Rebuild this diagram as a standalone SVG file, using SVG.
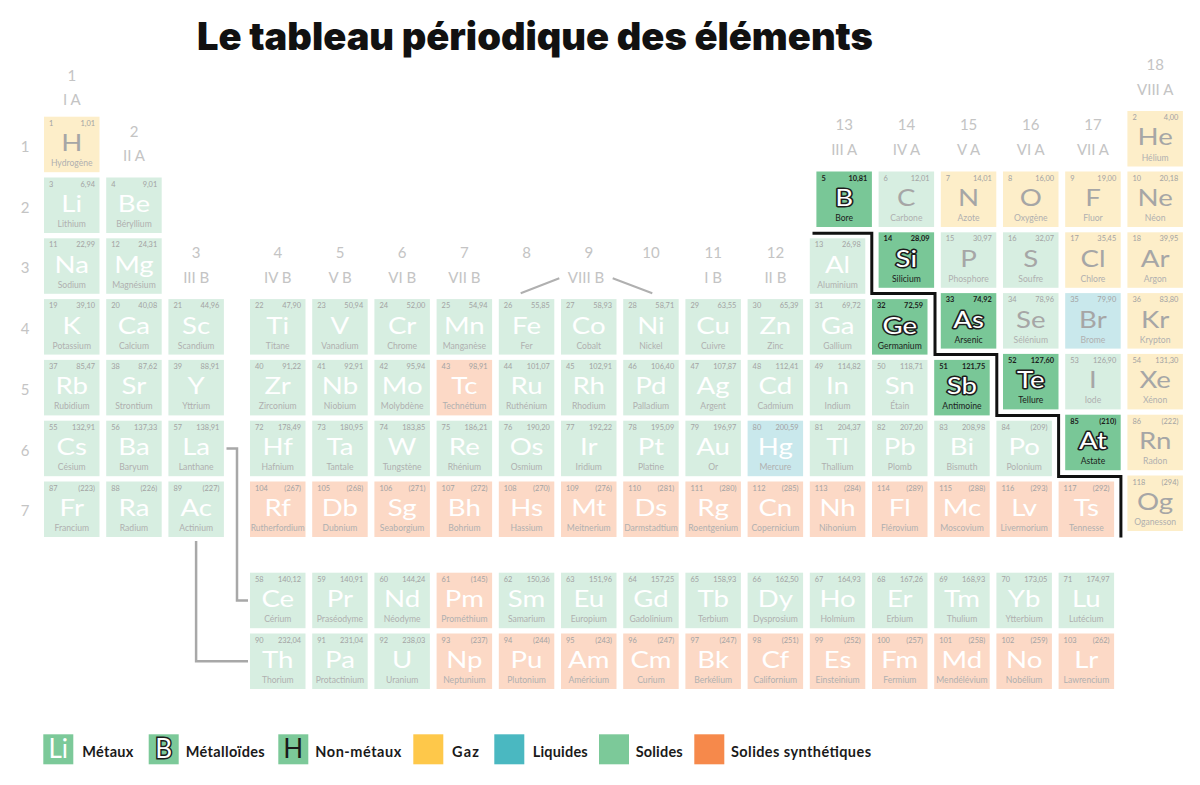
<svg xmlns="http://www.w3.org/2000/svg" width="1200" height="785" viewBox="0 0 1200 785">
<style>
text{font-family:Lato,"Noto Sans","DejaVu Sans",sans-serif}
.title{font-family:Inter,Lato,"DejaVu Sans",sans-serif;font-size:38px;font-weight:900;fill:#111}
.h{font-size:15px;fill:#c4c4c4;text-anchor:middle}
.mt,.nm{fill:#d7eee1}
.ga{fill:#fdeec9}
.lq{fill:#c9e8ec}
.sy{fill:#fcd9c6}
.md{fill:#79c797}
.n{font-size:7.4px;fill:#a3a3a3;transform:translateY(-1px)}
.a{font-size:7.4px;fill:#a3a3a3;text-anchor:end;transform:translateY(-1px)}
.y{font-size:24px;fill:#fff;text-anchor:middle;transform-box:fill-box;transform-origin:center;transform:translateY(1px) scaleX(1.15)}
.nm .y,.ga .y,.lq .y{fill:#a6a6a6}
.hg .y{fill:#fff}
.e{font-size:8.6px;fill:#b0b0b0;text-anchor:middle}
.md .n,.md .a,.md .e{fill:#1c1c1c;font-weight:700}
.md .e{font-weight:400}
.md .y{fill:#fff;stroke:#1c1c1c;stroke-width:3;paint-order:stroke;stroke-linejoin:round}
.lg{font-size:14.5px;font-weight:700;fill:#1a1a1a}
.conn{fill:none;stroke:#a8a8a8;stroke-width:2.5}
.stair{fill:none;stroke:#111;stroke-width:3}
</style>
<defs>
<rect id="sq" width="55.5" height="55.5"/>
</defs>

<text class="title" x="197" y="50" textLength="676" lengthAdjust="spacingAndGlyphs">Le tableau périodique des éléments</text>

<g id="headers">
<text class="h" x="71.75" y="81">1</text><text class="h" x="71.75" y="105">I A</text>
<text class="h" x="134" y="137">2</text><text class="h" x="134" y="161">II A</text>
<text class="h" x="196.2" y="258">3</text><text class="h" x="196.2" y="283">III B</text>
<text class="h" x="277.75" y="258">4</text><text class="h" x="277.75" y="283">IV B</text>
<text class="h" x="340" y="258">5</text><text class="h" x="340" y="283">V B</text>
<text class="h" x="402.2" y="258">6</text><text class="h" x="402.2" y="283">VI B</text>
<text class="h" x="464.4" y="258">7</text><text class="h" x="464.4" y="283">VII B</text>
<text class="h" x="526.6" y="258">8</text>
<text class="h" x="588.8" y="258">9</text><text class="h" x="586" y="283">VIII B</text>
<text class="h" x="651" y="258">10</text>
<text class="h" x="713.2" y="258">11</text><text class="h" x="713.2" y="283">I B</text>
<text class="h" x="775.4" y="258">12</text><text class="h" x="775.4" y="283">II B</text>
<text class="h" x="844.2" y="130">13</text><text class="h" x="844.2" y="155">III A</text>
<text class="h" x="906.4" y="130">14</text><text class="h" x="906.4" y="155">IV A</text>
<text class="h" x="968.6" y="130">15</text><text class="h" x="968.6" y="155">V A</text>
<text class="h" x="1030.8" y="130">16</text><text class="h" x="1030.8" y="155">VI A</text>
<text class="h" x="1093" y="130">17</text><text class="h" x="1093" y="155">VII A</text>
<text class="h" x="1155.2" y="70">18</text><text class="h" x="1155.2" y="95">VIII A</text>
<text class="h" x="25" y="151.5">1</text>
<text class="h" x="25" y="212.5">2</text>
<text class="h" x="25" y="273">3</text>
<text class="h" x="25" y="334">4</text>
<text class="h" x="25" y="394.5">5</text>
<text class="h" x="25" y="455.5">6</text>
<text class="h" x="25" y="516">7</text>
<path d="M520.7,293.3 L559.3,278.3 M612.7,278.3 L652.3,293.3" stroke="#b0b0b0" stroke-width="2" fill="none"/>
</g>

<g id="connectors">
<path class="conn" d="M226.5,448.4 H237 V600.5 H248"/>
<path class="conn" d="M196.1,541 V661.3 H248"/>
<path class="stair" d="M812.5,233.2 H871.8 V293.6 H935 V354.6 H996.8 V415.6 H1058.6 V476.4 H1120.9 V537.5"/>
</g>

<g id="elements">
<g id="el-H" class="c ga" transform="translate(44,116.7)"><use href="#sq"/><text class="n" x="5" y="10">1</text><text class="a" x="51" y="10">1,01</text><text class="y" x="27.75" y="33.5">H</text><text class="e" x="27.75" y="49.5">Hydrogène</text></g>
<g id="el-He" class="c ga" transform="translate(1127.4,111)"><use href="#sq"/><text class="n" x="5" y="10">2</text><text class="a" x="51" y="10">4,00</text><text class="y" x="27.75" y="33.5">He</text><text class="e" x="27.75" y="49.5">Hélium</text></g>

<g id="el-Li" class="c mt" transform="translate(44,177.5)"><use href="#sq"/><text class="n" x="5" y="10">3</text><text class="a" x="51" y="10">6,94</text><text class="y" x="27.75" y="33.5">Li</text><text class="e" x="27.75" y="49.5">Lithium</text></g>
<g id="el-Be" class="c mt" transform="translate(106.2,177.5)"><use href="#sq"/><text class="n" x="5" y="10">4</text><text class="a" x="51" y="10">9,01</text><text class="y" x="27.75" y="33.5">Be</text><text class="e" x="27.75" y="49.5">Béryllium</text></g>
<g id="el-B" class="c md" transform="translate(816.4,171.5)"><use href="#sq"/><text class="n" x="5" y="10">5</text><text class="a" x="51" y="10">10,81</text><text class="y" x="27.75" y="33.5">B</text><text class="e" x="27.75" y="49.5">Bore</text></g>
<g id="el-C" class="c nm" transform="translate(878.6,171.5)"><use href="#sq"/><text class="n" x="5" y="10">6</text><text class="a" x="51" y="10">12,01</text><text class="y" x="27.75" y="33.5">C</text><text class="e" x="27.75" y="49.5">Carbone</text></g>
<g id="el-N" class="c ga" transform="translate(940.8,171.5)"><use href="#sq"/><text class="n" x="5" y="10">7</text><text class="a" x="51" y="10">14,01</text><text class="y" x="27.75" y="33.5">N</text><text class="e" x="27.75" y="49.5">Azote</text></g>
<g id="el-O" class="c ga" transform="translate(1003,171.5)"><use href="#sq"/><text class="n" x="5" y="10">8</text><text class="a" x="51" y="10">16,00</text><text class="y" x="27.75" y="33.5">O</text><text class="e" x="27.75" y="49.5">Oxygène</text></g>
<g id="el-F" class="c ga" transform="translate(1065.2,171.5)"><use href="#sq"/><text class="n" x="5" y="10">9</text><text class="a" x="51" y="10">19,00</text><text class="y" x="27.75" y="33.5">F</text><text class="e" x="27.75" y="49.5">Fluor</text></g>
<g id="el-Ne" class="c ga" transform="translate(1127.4,171.5)"><use href="#sq"/><text class="n" x="5" y="10">10</text><text class="a" x="51" y="10">20,18</text><text class="y" x="27.75" y="33.5">Ne</text><text class="e" x="27.75" y="49.5">Néon</text></g>

<g id="el-Na" class="c mt" transform="translate(44,238.3)"><use href="#sq"/><text class="n" x="5" y="10">11</text><text class="a" x="51" y="10">22,99</text><text class="y" x="27.75" y="33.5">Na</text><text class="e" x="27.75" y="49.5">Sodium</text></g>
<g id="el-Mg" class="c mt" transform="translate(106.2,238.3)"><use href="#sq"/><text class="n" x="5" y="10">12</text><text class="a" x="51" y="10">24,31</text><text class="y" x="27.75" y="33.5">Mg</text><text class="e" x="27.75" y="49.5">Magnésium</text></g>
<g id="el-Al" class="c mt" transform="translate(809.8,238.3)"><use href="#sq"/><text class="n" x="5" y="10">13</text><text class="a" x="51" y="10">26,98</text><text class="y" x="27.75" y="33.5">Al</text><text class="e" x="27.75" y="49.5">Aluminium</text></g>
<g id="el-Si" class="c md" transform="translate(878.6,232.3)"><use href="#sq"/><text class="n" x="5" y="10">14</text><text class="a" x="51" y="10">28,09</text><text class="y" x="27.75" y="33.5">Si</text><text class="e" x="27.75" y="49.5">Silicium</text></g>
<g id="el-P" class="c nm" transform="translate(940.8,232.3)"><use href="#sq"/><text class="n" x="5" y="10">15</text><text class="a" x="51" y="10">30,97</text><text class="y" x="27.75" y="33.5">P</text><text class="e" x="27.75" y="49.5">Phosphore</text></g>
<g id="el-S" class="c nm" transform="translate(1003,232.3)"><use href="#sq"/><text class="n" x="5" y="10">16</text><text class="a" x="51" y="10">32,07</text><text class="y" x="27.75" y="33.5">S</text><text class="e" x="27.75" y="49.5">Soufre</text></g>
<g id="el-Cl" class="c ga" transform="translate(1065.2,232.3)"><use href="#sq"/><text class="n" x="5" y="10">17</text><text class="a" x="51" y="10">35,45</text><text class="y" x="27.75" y="33.5">Cl</text><text class="e" x="27.75" y="49.5">Chlore</text></g>
<g id="el-Ar" class="c ga" transform="translate(1127.4,232.3)"><use href="#sq"/><text class="n" x="5" y="10">18</text><text class="a" x="51" y="10">39,95</text><text class="y" x="27.75" y="33.5">Ar</text><text class="e" x="27.75" y="49.5">Argon</text></g>

<g id="el-K" class="c mt" transform="translate(44,299.1)"><use href="#sq"/><text class="n" x="5" y="10">19</text><text class="a" x="51" y="10">39,10</text><text class="y" x="27.75" y="33.5">K</text><text class="e" x="27.75" y="49.5">Potassium</text></g>
<g id="el-Ca" class="c mt" transform="translate(106.2,299.1)"><use href="#sq"/><text class="n" x="5" y="10">20</text><text class="a" x="51" y="10">40,08</text><text class="y" x="27.75" y="33.5">Ca</text><text class="e" x="27.75" y="49.5">Calcium</text></g>
<g id="el-Sc" class="c mt" transform="translate(168.4,299.1)"><use href="#sq"/><text class="n" x="5" y="10">21</text><text class="a" x="51" y="10">44,96</text><text class="y" x="27.75" y="33.5">Sc</text><text class="e" x="27.75" y="49.5">Scandium</text></g>
<g id="el-Ti" class="c mt" transform="translate(250,299.1)"><use href="#sq"/><text class="n" x="5" y="10">22</text><text class="a" x="51" y="10">47,90</text><text class="y" x="27.75" y="33.5">Ti</text><text class="e" x="27.75" y="49.5">Titane</text></g>
<g id="el-V" class="c mt" transform="translate(312.2,299.1)"><use href="#sq"/><text class="n" x="5" y="10">23</text><text class="a" x="51" y="10">50,94</text><text class="y" x="27.75" y="33.5">V</text><text class="e" x="27.75" y="49.5">Vanadium</text></g>
<g id="el-Cr" class="c mt" transform="translate(374.4,299.1)"><use href="#sq"/><text class="n" x="5" y="10">24</text><text class="a" x="51" y="10">52,00</text><text class="y" x="27.75" y="33.5">Cr</text><text class="e" x="27.75" y="49.5">Chrome</text></g>
<g id="el-Mn" class="c mt" transform="translate(436.6,299.1)"><use href="#sq"/><text class="n" x="5" y="10">25</text><text class="a" x="51" y="10">54,94</text><text class="y" x="27.75" y="33.5">Mn</text><text class="e" x="27.75" y="49.5">Manganèse</text></g>
<g id="el-Fe" class="c mt" transform="translate(498.8,299.1)"><use href="#sq"/><text class="n" x="5" y="10">26</text><text class="a" x="51" y="10">55,85</text><text class="y" x="27.75" y="33.5">Fe</text><text class="e" x="27.75" y="49.5">Fer</text></g>
<g id="el-Co" class="c mt" transform="translate(561,299.1)"><use href="#sq"/><text class="n" x="5" y="10">27</text><text class="a" x="51" y="10">58,93</text><text class="y" x="27.75" y="33.5">Co</text><text class="e" x="27.75" y="49.5">Cobalt</text></g>
<g id="el-Ni" class="c mt" transform="translate(623.2,299.1)"><use href="#sq"/><text class="n" x="5" y="10">28</text><text class="a" x="51" y="10">58,71</text><text class="y" x="27.75" y="33.5">Ni</text><text class="e" x="27.75" y="49.5">Nickel</text></g>
<g id="el-Cu" class="c mt" transform="translate(685.4,299.1)"><use href="#sq"/><text class="n" x="5" y="10">29</text><text class="a" x="51" y="10">63,55</text><text class="y" x="27.75" y="33.5">Cu</text><text class="e" x="27.75" y="49.5">Cuivre</text></g>
<g id="el-Zn" class="c mt" transform="translate(747.6,299.1)"><use href="#sq"/><text class="n" x="5" y="10">30</text><text class="a" x="51" y="10">65,39</text><text class="y" x="27.75" y="33.5">Zn</text><text class="e" x="27.75" y="49.5">Zinc</text></g>
<g id="el-Ga" class="c mt" transform="translate(809.8,299.1)"><use href="#sq"/><text class="n" x="5" y="10">31</text><text class="a" x="51" y="10">69,72</text><text class="y" x="27.75" y="33.5">Ga</text><text class="e" x="27.75" y="49.5">Gallium</text></g>
<g id="el-Ge" class="c md" transform="translate(872,299.1)"><use href="#sq"/><text class="n" x="5" y="10">32</text><text class="a" x="51" y="10">72,59</text><text class="y" x="27.75" y="33.5">Ge</text><text class="e" x="27.75" y="49.5">Germanium</text></g>
<g id="el-As" class="c md" transform="translate(940.8,293.1)"><use href="#sq"/><text class="n" x="5" y="10">33</text><text class="a" x="51" y="10">74,92</text><text class="y" x="27.75" y="33.5">As</text><text class="e" x="27.75" y="49.5">Arsenic</text></g>
<g id="el-Se" class="c nm" transform="translate(1003,293.1)"><use href="#sq"/><text class="n" x="5" y="10">34</text><text class="a" x="51" y="10">78,96</text><text class="y" x="27.75" y="33.5">Se</text><text class="e" x="27.75" y="49.5">Sélénium</text></g>
<g id="el-Br" class="c lq" transform="translate(1065.2,293.1)"><use href="#sq"/><text class="n" x="5" y="10">35</text><text class="a" x="51" y="10">79,90</text><text class="y" x="27.75" y="33.5">Br</text><text class="e" x="27.75" y="49.5">Brome</text></g>
<g id="el-Kr" class="c ga" transform="translate(1127.4,293.1)"><use href="#sq"/><text class="n" x="5" y="10">36</text><text class="a" x="51" y="10">83,80</text><text class="y" x="27.75" y="33.5">Kr</text><text class="e" x="27.75" y="49.5">Krypton</text></g>

<g id="el-Rb" class="c mt" transform="translate(44,359.9)"><use href="#sq"/><text class="n" x="5" y="10">37</text><text class="a" x="51" y="10">85,47</text><text class="y" x="27.75" y="33.5">Rb</text><text class="e" x="27.75" y="49.5">Rubidium</text></g>
<g id="el-Sr" class="c mt" transform="translate(106.2,359.9)"><use href="#sq"/><text class="n" x="5" y="10">38</text><text class="a" x="51" y="10">87,62</text><text class="y" x="27.75" y="33.5">Sr</text><text class="e" x="27.75" y="49.5">Strontium</text></g>
<g id="el-Y" class="c mt" transform="translate(168.4,359.9)"><use href="#sq"/><text class="n" x="5" y="10">39</text><text class="a" x="51" y="10">88,91</text><text class="y" x="27.75" y="33.5">Y</text><text class="e" x="27.75" y="49.5">Yttrium</text></g>
<g id="el-Zr" class="c mt" transform="translate(250,359.9)"><use href="#sq"/><text class="n" x="5" y="10">40</text><text class="a" x="51" y="10">91,22</text><text class="y" x="27.75" y="33.5">Zr</text><text class="e" x="27.75" y="49.5">Zirconium</text></g>
<g id="el-Nb" class="c mt" transform="translate(312.2,359.9)"><use href="#sq"/><text class="n" x="5" y="10">41</text><text class="a" x="51" y="10">92,91</text><text class="y" x="27.75" y="33.5">Nb</text><text class="e" x="27.75" y="49.5">Niobium</text></g>
<g id="el-Mo" class="c mt" transform="translate(374.4,359.9)"><use href="#sq"/><text class="n" x="5" y="10">42</text><text class="a" x="51" y="10">95,94</text><text class="y" x="27.75" y="33.5">Mo</text><text class="e" x="27.75" y="49.5">Molybdène</text></g>
<g id="el-Tc" class="c sy" transform="translate(436.6,359.9)"><use href="#sq"/><text class="n" x="5" y="10">43</text><text class="a" x="51" y="10">98,91</text><text class="y" x="27.75" y="33.5">Tc</text><text class="e" x="27.75" y="49.5">Technétium</text></g>
<g id="el-Ru" class="c mt" transform="translate(498.8,359.9)"><use href="#sq"/><text class="n" x="5" y="10">44</text><text class="a" x="51" y="10">101,07</text><text class="y" x="27.75" y="33.5">Ru</text><text class="e" x="27.75" y="49.5">Ruthénium</text></g>
<g id="el-Rh" class="c mt" transform="translate(561,359.9)"><use href="#sq"/><text class="n" x="5" y="10">45</text><text class="a" x="51" y="10">102,91</text><text class="y" x="27.75" y="33.5">Rh</text><text class="e" x="27.75" y="49.5">Rhodium</text></g>
<g id="el-Pd" class="c mt" transform="translate(623.2,359.9)"><use href="#sq"/><text class="n" x="5" y="10">46</text><text class="a" x="51" y="10">106,40</text><text class="y" x="27.75" y="33.5">Pd</text><text class="e" x="27.75" y="49.5">Palladium</text></g>
<g id="el-Ag" class="c mt" transform="translate(685.4,359.9)"><use href="#sq"/><text class="n" x="5" y="10">47</text><text class="a" x="51" y="10">107,87</text><text class="y" x="27.75" y="33.5">Ag</text><text class="e" x="27.75" y="49.5">Argent</text></g>
<g id="el-Cd" class="c mt" transform="translate(747.6,359.9)"><use href="#sq"/><text class="n" x="5" y="10">48</text><text class="a" x="51" y="10">112,41</text><text class="y" x="27.75" y="33.5">Cd</text><text class="e" x="27.75" y="49.5">Cadmium</text></g>
<g id="el-In" class="c mt" transform="translate(809.8,359.9)"><use href="#sq"/><text class="n" x="5" y="10">49</text><text class="a" x="51" y="10">114,82</text><text class="y" x="27.75" y="33.5">In</text><text class="e" x="27.75" y="49.5">Indium</text></g>
<g id="el-Sn" class="c mt" transform="translate(872,359.9)"><use href="#sq"/><text class="n" x="5" y="10">50</text><text class="a" x="51" y="10">118,71</text><text class="y" x="27.75" y="33.5">Sn</text><text class="e" x="27.75" y="49.5">Étain</text></g>
<g id="el-Sb" class="c md" transform="translate(934.2,359.9)"><use href="#sq"/><text class="n" x="5" y="10">51</text><text class="a" x="51" y="10">121,75</text><text class="y" x="27.75" y="33.5">Sb</text><text class="e" x="27.75" y="49.5">Antimoine</text></g>
<g id="el-Te" class="c md" transform="translate(1003,353.9)"><use href="#sq"/><text class="n" x="5" y="10">52</text><text class="a" x="51" y="10">127,60</text><text class="y" x="27.75" y="33.5">Te</text><text class="e" x="27.75" y="49.5">Tellure</text></g>
<g id="el-I" class="c nm" transform="translate(1065.2,353.9)"><use href="#sq"/><text class="n" x="5" y="10">53</text><text class="a" x="51" y="10">126,90</text><text class="y" x="27.75" y="33.5">I</text><text class="e" x="27.75" y="49.5">Iode</text></g>
<g id="el-Xe" class="c ga" transform="translate(1127.4,353.9)"><use href="#sq"/><text class="n" x="5" y="10">54</text><text class="a" x="51" y="10">131,30</text><text class="y" x="27.75" y="33.5">Xe</text><text class="e" x="27.75" y="49.5">Xénon</text></g>

<g id="el-Cs" class="c mt" transform="translate(44,420.7)"><use href="#sq"/><text class="n" x="5" y="10">55</text><text class="a" x="51" y="10">132,91</text><text class="y" x="27.75" y="33.5">Cs</text><text class="e" x="27.75" y="49.5">Césium</text></g>
<g id="el-Ba" class="c mt" transform="translate(106.2,420.7)"><use href="#sq"/><text class="n" x="5" y="10">56</text><text class="a" x="51" y="10">137,33</text><text class="y" x="27.75" y="33.5">Ba</text><text class="e" x="27.75" y="49.5">Baryum</text></g>
<g id="el-La" class="c mt" transform="translate(168.4,420.7)"><use href="#sq"/><text class="n" x="5" y="10">57</text><text class="a" x="51" y="10">138,91</text><text class="y" x="27.75" y="33.5">La</text><text class="e" x="27.75" y="49.5">Lanthane</text></g>
<g id="el-Hf" class="c mt" transform="translate(250,420.7)"><use href="#sq"/><text class="n" x="5" y="10">72</text><text class="a" x="51" y="10">178,49</text><text class="y" x="27.75" y="33.5">Hf</text><text class="e" x="27.75" y="49.5">Hafnium</text></g>
<g id="el-Ta" class="c mt" transform="translate(312.2,420.7)"><use href="#sq"/><text class="n" x="5" y="10">73</text><text class="a" x="51" y="10">180,95</text><text class="y" x="27.75" y="33.5">Ta</text><text class="e" x="27.75" y="49.5">Tantale</text></g>
<g id="el-W" class="c mt" transform="translate(374.4,420.7)"><use href="#sq"/><text class="n" x="5" y="10">74</text><text class="a" x="51" y="10">183,85</text><text class="y" x="27.75" y="33.5">W</text><text class="e" x="27.75" y="49.5">Tungstène</text></g>
<g id="el-Re" class="c mt" transform="translate(436.6,420.7)"><use href="#sq"/><text class="n" x="5" y="10">75</text><text class="a" x="51" y="10">186,21</text><text class="y" x="27.75" y="33.5">Re</text><text class="e" x="27.75" y="49.5">Rhénium</text></g>
<g id="el-Os" class="c mt" transform="translate(498.8,420.7)"><use href="#sq"/><text class="n" x="5" y="10">76</text><text class="a" x="51" y="10">190,20</text><text class="y" x="27.75" y="33.5">Os</text><text class="e" x="27.75" y="49.5">Osmium</text></g>
<g id="el-Ir" class="c mt" transform="translate(561,420.7)"><use href="#sq"/><text class="n" x="5" y="10">77</text><text class="a" x="51" y="10">192,22</text><text class="y" x="27.75" y="33.5">Ir</text><text class="e" x="27.75" y="49.5">Iridium</text></g>
<g id="el-Pt" class="c mt" transform="translate(623.2,420.7)"><use href="#sq"/><text class="n" x="5" y="10">78</text><text class="a" x="51" y="10">195,09</text><text class="y" x="27.75" y="33.5">Pt</text><text class="e" x="27.75" y="49.5">Platine</text></g>
<g id="el-Au" class="c mt" transform="translate(685.4,420.7)"><use href="#sq"/><text class="n" x="5" y="10">79</text><text class="a" x="51" y="10">196,97</text><text class="y" x="27.75" y="33.5">Au</text><text class="e" x="27.75" y="49.5">Or</text></g>
<g id="el-Hg" class="c lq hg" transform="translate(747.6,420.7)"><use href="#sq"/><text class="n" x="5" y="10">80</text><text class="a" x="51" y="10">200,59</text><text class="y" x="27.75" y="33.5">Hg</text><text class="e" x="27.75" y="49.5">Mercure</text></g>
<g id="el-Tl" class="c mt" transform="translate(809.8,420.7)"><use href="#sq"/><text class="n" x="5" y="10">81</text><text class="a" x="51" y="10">204,37</text><text class="y" x="27.75" y="33.5">Tl</text><text class="e" x="27.75" y="49.5">Thallium</text></g>
<g id="el-Pb" class="c mt" transform="translate(872,420.7)"><use href="#sq"/><text class="n" x="5" y="10">82</text><text class="a" x="51" y="10">207,20</text><text class="y" x="27.75" y="33.5">Pb</text><text class="e" x="27.75" y="49.5">Plomb</text></g>
<g id="el-Bi" class="c mt" transform="translate(934.2,420.7)"><use href="#sq"/><text class="n" x="5" y="10">83</text><text class="a" x="51" y="10">208,98</text><text class="y" x="27.75" y="33.5">Bi</text><text class="e" x="27.75" y="49.5">Bismuth</text></g>
<g id="el-Po" class="c mt" transform="translate(996.4,420.7)"><use href="#sq"/><text class="n" x="5" y="10">84</text><text class="a" x="51" y="10">(209)</text><text class="y" x="27.75" y="33.5">Po</text><text class="e" x="27.75" y="49.5">Polonium</text></g>
<g id="el-At" class="c md" transform="translate(1065.2,414.7)"><use href="#sq"/><text class="n" x="5" y="10">85</text><text class="a" x="51" y="10">(210)</text><text class="y" x="27.75" y="33.5">At</text><text class="e" x="27.75" y="49.5">Astate</text></g>
<g id="el-Rn" class="c ga" transform="translate(1127.4,414.7)"><use href="#sq"/><text class="n" x="5" y="10">86</text><text class="a" x="51" y="10">(222)</text><text class="y" x="27.75" y="33.5">Rn</text><text class="e" x="27.75" y="49.5">Radon</text></g>

<g id="el-Fr" class="c mt" transform="translate(44,481.5)"><use href="#sq"/><text class="n" x="5" y="10">87</text><text class="a" x="51" y="10">(223)</text><text class="y" x="27.75" y="33.5">Fr</text><text class="e" x="27.75" y="49.5">Francium</text></g>
<g id="el-Ra" class="c mt" transform="translate(106.2,481.5)"><use href="#sq"/><text class="n" x="5" y="10">88</text><text class="a" x="51" y="10">(226)</text><text class="y" x="27.75" y="33.5">Ra</text><text class="e" x="27.75" y="49.5">Radium</text></g>
<g id="el-Ac" class="c mt" transform="translate(168.4,481.5)"><use href="#sq"/><text class="n" x="5" y="10">89</text><text class="a" x="51" y="10">(227)</text><text class="y" x="27.75" y="33.5">Ac</text><text class="e" x="27.75" y="49.5">Actinium</text></g>
<g id="el-Rf" class="c sy" transform="translate(250,481.5)"><use href="#sq"/><text class="n" x="5" y="10">104</text><text class="a" x="51" y="10">(267)</text><text class="y" x="27.75" y="33.5">Rf</text><text class="e" x="27.75" y="49.5" textLength="54" lengthAdjust="spacingAndGlyphs">Rutherfordium</text></g>
<g id="el-Db" class="c sy" transform="translate(312.2,481.5)"><use href="#sq"/><text class="n" x="5" y="10">105</text><text class="a" x="51" y="10">(268)</text><text class="y" x="27.75" y="33.5">Db</text><text class="e" x="27.75" y="49.5">Dubnium</text></g>
<g id="el-Sg" class="c sy" transform="translate(374.4,481.5)"><use href="#sq"/><text class="n" x="5" y="10">106</text><text class="a" x="51" y="10">(271)</text><text class="y" x="27.75" y="33.5">Sg</text><text class="e" x="27.75" y="49.5">Seaborgium</text></g>
<g id="el-Bh" class="c sy" transform="translate(436.6,481.5)"><use href="#sq"/><text class="n" x="5" y="10">107</text><text class="a" x="51" y="10">(272)</text><text class="y" x="27.75" y="33.5">Bh</text><text class="e" x="27.75" y="49.5">Bohrium</text></g>
<g id="el-Hs" class="c sy" transform="translate(498.8,481.5)"><use href="#sq"/><text class="n" x="5" y="10">108</text><text class="a" x="51" y="10">(270)</text><text class="y" x="27.75" y="33.5">Hs</text><text class="e" x="27.75" y="49.5">Hassium</text></g>
<g id="el-Mt" class="c sy" transform="translate(561,481.5)"><use href="#sq"/><text class="n" x="5" y="10">109</text><text class="a" x="51" y="10">(276)</text><text class="y" x="27.75" y="33.5">Mt</text><text class="e" x="27.75" y="49.5">Meitnerium</text></g>
<g id="el-Ds" class="c sy" transform="translate(623.2,481.5)"><use href="#sq"/><text class="n" x="5" y="10">110</text><text class="a" x="51" y="10">(281)</text><text class="y" x="27.75" y="33.5">Ds</text><text class="e" x="27.75" y="49.5" textLength="53.5" lengthAdjust="spacingAndGlyphs">Darmstadtium</text></g>
<g id="el-Rg" class="c sy" transform="translate(685.4,481.5)"><use href="#sq"/><text class="n" x="5" y="10">111</text><text class="a" x="51" y="10">(280)</text><text class="y" x="27.75" y="33.5">Rg</text><text class="e" x="27.75" y="49.5">Roentgenium</text></g>
<g id="el-Cn" class="c sy" transform="translate(747.6,481.5)"><use href="#sq"/><text class="n" x="5" y="10">112</text><text class="a" x="51" y="10">(285)</text><text class="y" x="27.75" y="33.5">Cn</text><text class="e" x="27.75" y="49.5">Copernicium</text></g>
<g id="el-Nh" class="c sy" transform="translate(809.8,481.5)"><use href="#sq"/><text class="n" x="5" y="10">113</text><text class="a" x="51" y="10">(284)</text><text class="y" x="27.75" y="33.5">Nh</text><text class="e" x="27.75" y="49.5">Nihonium</text></g>
<g id="el-Fl" class="c sy" transform="translate(872,481.5)"><use href="#sq"/><text class="n" x="5" y="10">114</text><text class="a" x="51" y="10">(289)</text><text class="y" x="27.75" y="33.5">Fl</text><text class="e" x="27.75" y="49.5">Flérovium</text></g>
<g id="el-Mc" class="c sy" transform="translate(934.2,481.5)"><use href="#sq"/><text class="n" x="5" y="10">115</text><text class="a" x="51" y="10">(288)</text><text class="y" x="27.75" y="33.5">Mc</text><text class="e" x="27.75" y="49.5">Moscovium</text></g>
<g id="el-Lv" class="c sy" transform="translate(996.4,481.5)"><use href="#sq"/><text class="n" x="5" y="10">116</text><text class="a" x="51" y="10">(293)</text><text class="y" x="27.75" y="33.5">Lv</text><text class="e" x="27.75" y="49.5">Livermorium</text></g>
<g id="el-Ts" class="c sy" transform="translate(1058.6,481.5)"><use href="#sq"/><text class="n" x="5" y="10">117</text><text class="a" x="51" y="10">(292)</text><text class="y" x="27.75" y="33.5">Ts</text><text class="e" x="27.75" y="49.5">Tennesse</text></g>
<g id="el-Og" class="c ga" transform="translate(1127.4,475.5)"><use href="#sq"/><text class="n" x="5" y="10">118</text><text class="a" x="51" y="10">(294)</text><text class="y" x="27.75" y="33.5">Og</text><text class="e" x="27.75" y="49.5">Oganesson</text></g>

<g id="el-Ce" class="c mt" transform="translate(250,572.7)"><use href="#sq"/><text class="n" x="5" y="10">58</text><text class="a" x="51" y="10">140,12</text><text class="y" x="27.75" y="33.5">Ce</text><text class="e" x="27.75" y="49.5">Cérium</text></g>
<g id="el-Pr" class="c mt" transform="translate(312.2,572.7)"><use href="#sq"/><text class="n" x="5" y="10">59</text><text class="a" x="51" y="10">140,91</text><text class="y" x="27.75" y="33.5">Pr</text><text class="e" x="27.75" y="49.5">Praséodyme</text></g>
<g id="el-Nd" class="c mt" transform="translate(374.4,572.7)"><use href="#sq"/><text class="n" x="5" y="10">60</text><text class="a" x="51" y="10">144,24</text><text class="y" x="27.75" y="33.5">Nd</text><text class="e" x="27.75" y="49.5">Néodyme</text></g>
<g id="el-Pm" class="c sy" transform="translate(436.6,572.7)"><use href="#sq"/><text class="n" x="5" y="10">61</text><text class="a" x="51" y="10">(145)</text><text class="y" x="27.75" y="33.5">Pm</text><text class="e" x="27.75" y="49.5">Prométhium</text></g>
<g id="el-Sm" class="c mt" transform="translate(498.8,572.7)"><use href="#sq"/><text class="n" x="5" y="10">62</text><text class="a" x="51" y="10">150,36</text><text class="y" x="27.75" y="33.5">Sm</text><text class="e" x="27.75" y="49.5">Samarium</text></g>
<g id="el-Eu" class="c mt" transform="translate(561,572.7)"><use href="#sq"/><text class="n" x="5" y="10">63</text><text class="a" x="51" y="10">151,96</text><text class="y" x="27.75" y="33.5">Eu</text><text class="e" x="27.75" y="49.5">Europium</text></g>
<g id="el-Gd" class="c mt" transform="translate(623.2,572.7)"><use href="#sq"/><text class="n" x="5" y="10">64</text><text class="a" x="51" y="10">157,25</text><text class="y" x="27.75" y="33.5">Gd</text><text class="e" x="27.75" y="49.5">Gadolinium</text></g>
<g id="el-Tb" class="c mt" transform="translate(685.4,572.7)"><use href="#sq"/><text class="n" x="5" y="10">65</text><text class="a" x="51" y="10">158,93</text><text class="y" x="27.75" y="33.5">Tb</text><text class="e" x="27.75" y="49.5">Terbium</text></g>
<g id="el-Dy" class="c mt" transform="translate(747.6,572.7)"><use href="#sq"/><text class="n" x="5" y="10">66</text><text class="a" x="51" y="10">162,50</text><text class="y" x="27.75" y="33.5">Dy</text><text class="e" x="27.75" y="49.5">Dysprosium</text></g>
<g id="el-Ho" class="c mt" transform="translate(809.8,572.7)"><use href="#sq"/><text class="n" x="5" y="10">67</text><text class="a" x="51" y="10">164,93</text><text class="y" x="27.75" y="33.5">Ho</text><text class="e" x="27.75" y="49.5">Holmium</text></g>
<g id="el-Er" class="c mt" transform="translate(872,572.7)"><use href="#sq"/><text class="n" x="5" y="10">68</text><text class="a" x="51" y="10">167,26</text><text class="y" x="27.75" y="33.5">Er</text><text class="e" x="27.75" y="49.5">Erbium</text></g>
<g id="el-Tm" class="c mt" transform="translate(934.2,572.7)"><use href="#sq"/><text class="n" x="5" y="10">69</text><text class="a" x="51" y="10">168,93</text><text class="y" x="27.75" y="33.5">Tm</text><text class="e" x="27.75" y="49.5">Thulium</text></g>
<g id="el-Yb" class="c mt" transform="translate(996.4,572.7)"><use href="#sq"/><text class="n" x="5" y="10">70</text><text class="a" x="51" y="10">173,05</text><text class="y" x="27.75" y="33.5">Yb</text><text class="e" x="27.75" y="49.5">Ytterbium</text></g>
<g id="el-Lu" class="c mt" transform="translate(1058.6,572.7)"><use href="#sq"/><text class="n" x="5" y="10">71</text><text class="a" x="51" y="10">174,97</text><text class="y" x="27.75" y="33.5">Lu</text><text class="e" x="27.75" y="49.5">Lutécium</text></g>

<g id="el-Th" class="c mt" transform="translate(250,633.5)"><use href="#sq"/><text class="n" x="5" y="10">90</text><text class="a" x="51" y="10">232,04</text><text class="y" x="27.75" y="33.5">Th</text><text class="e" x="27.75" y="49.5">Thorium</text></g>
<g id="el-Pa" class="c mt" transform="translate(312.2,633.5)"><use href="#sq"/><text class="n" x="5" y="10">91</text><text class="a" x="51" y="10">231,04</text><text class="y" x="27.75" y="33.5">Pa</text><text class="e" x="27.75" y="49.5">Protactinium</text></g>
<g id="el-U" class="c mt" transform="translate(374.4,633.5)"><use href="#sq"/><text class="n" x="5" y="10">92</text><text class="a" x="51" y="10">238,03</text><text class="y" x="27.75" y="33.5">U</text><text class="e" x="27.75" y="49.5">Uranium</text></g>
<g id="el-Np" class="c sy" transform="translate(436.6,633.5)"><use href="#sq"/><text class="n" x="5" y="10">93</text><text class="a" x="51" y="10">(237)</text><text class="y" x="27.75" y="33.5">Np</text><text class="e" x="27.75" y="49.5">Neptunium</text></g>
<g id="el-Pu" class="c sy" transform="translate(498.8,633.5)"><use href="#sq"/><text class="n" x="5" y="10">94</text><text class="a" x="51" y="10">(244)</text><text class="y" x="27.75" y="33.5">Pu</text><text class="e" x="27.75" y="49.5">Plutonium</text></g>
<g id="el-Am" class="c sy" transform="translate(561,633.5)"><use href="#sq"/><text class="n" x="5" y="10">95</text><text class="a" x="51" y="10">(243)</text><text class="y" x="27.75" y="33.5">Am</text><text class="e" x="27.75" y="49.5">Américium</text></g>
<g id="el-Cm" class="c sy" transform="translate(623.2,633.5)"><use href="#sq"/><text class="n" x="5" y="10">96</text><text class="a" x="51" y="10">(247)</text><text class="y" x="27.75" y="33.5">Cm</text><text class="e" x="27.75" y="49.5">Curium</text></g>
<g id="el-Bk" class="c sy" transform="translate(685.4,633.5)"><use href="#sq"/><text class="n" x="5" y="10">97</text><text class="a" x="51" y="10">(247)</text><text class="y" x="27.75" y="33.5">Bk</text><text class="e" x="27.75" y="49.5">Berkélium</text></g>
<g id="el-Cf" class="c sy" transform="translate(747.6,633.5)"><use href="#sq"/><text class="n" x="5" y="10">98</text><text class="a" x="51" y="10">(251)</text><text class="y" x="27.75" y="33.5">Cf</text><text class="e" x="27.75" y="49.5">Californium</text></g>
<g id="el-Es" class="c sy" transform="translate(809.8,633.5)"><use href="#sq"/><text class="n" x="5" y="10">99</text><text class="a" x="51" y="10">(252)</text><text class="y" x="27.75" y="33.5">Es</text><text class="e" x="27.75" y="49.5">Einsteinium</text></g>
<g id="el-Fm" class="c sy" transform="translate(872,633.5)"><use href="#sq"/><text class="n" x="5" y="10">100</text><text class="a" x="51" y="10">(257)</text><text class="y" x="27.75" y="33.5">Fm</text><text class="e" x="27.75" y="49.5">Fermium</text></g>
<g id="el-Md" class="c sy" transform="translate(934.2,633.5)"><use href="#sq"/><text class="n" x="5" y="10">101</text><text class="a" x="51" y="10">(258)</text><text class="y" x="27.75" y="33.5">Md</text><text class="e" x="27.75" y="49.5">Mendélévium</text></g>
<g id="el-No" class="c sy" transform="translate(996.4,633.5)"><use href="#sq"/><text class="n" x="5" y="10">102</text><text class="a" x="51" y="10">(259)</text><text class="y" x="27.75" y="33.5">No</text><text class="e" x="27.75" y="49.5">Nobélium</text></g>
<g id="el-Lr" class="c sy" transform="translate(1058.6,633.5)"><use href="#sq"/><text class="n" x="5" y="10">103</text><text class="a" x="51" y="10">(262)</text><text class="y" x="27.75" y="33.5">Lr</text><text class="e" x="27.75" y="49.5">Lawrencium</text></g>
</g>

<g id="legend">
<g id="lg-metaux"><rect x="43.3" y="734.3" width="30" height="30" fill="#7cc999"/><text x="58.3" y="758" font-size="26" fill="#fff" text-anchor="middle">Li</text><text class="lg" x="82.3" y="756.7" textLength="51">Métaux</text></g>
<g id="lg-metalloides"><rect x="148.7" y="734.3" width="30" height="30" fill="#7cc999"/><text x="163.7" y="758" font-size="26" fill="#fff" stroke="#1c1c1c" stroke-width="3" paint-order="stroke" text-anchor="middle">B</text><text class="lg" x="185.7" y="756.7" textLength="79">Métalloïdes</text></g>
<g id="lg-nonmetaux"><rect x="278.3" y="734.3" width="30" height="30" fill="#7cc999"/><text x="293.3" y="758" font-size="26" fill="#1a1a1a" text-anchor="middle">H</text><text class="lg" x="315.3" y="756.7" textLength="86">Non-métaux</text></g>
<g id="lg-gaz"><rect x="413.3" y="734.3" width="30" height="30" fill="#fec84a"/><text class="lg" x="452" y="756.7" textLength="27">Gaz</text></g>
<g id="lg-liquides"><rect x="494.3" y="734.3" width="30" height="30" fill="#4ab8c1"/><text class="lg" x="532.7" y="756.7" textLength="55">Liquides</text></g>
<g id="lg-solides"><rect x="599" y="734.3" width="30" height="30" fill="#7cc999"/><text class="lg" x="635.7" y="756.7" textLength="47">Solides</text></g>
<g id="lg-synth"><rect x="694.3" y="734.3" width="30" height="30" fill="#f6894b"/><text class="lg" x="731" y="756.7" textLength="140">Solides synthétiques</text></g>
</g>
</svg>
